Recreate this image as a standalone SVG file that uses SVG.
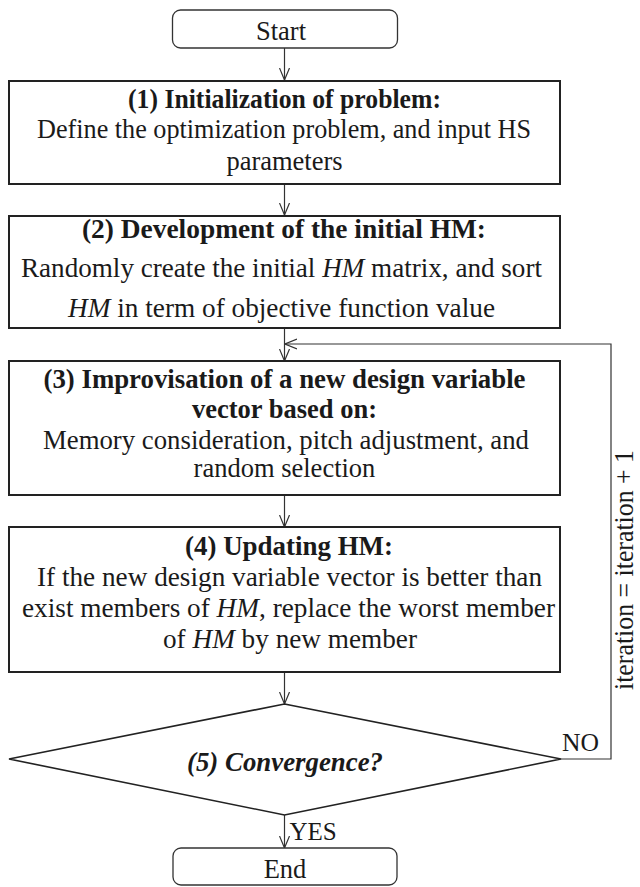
<svg xmlns="http://www.w3.org/2000/svg" width="640" height="887" viewBox="0 0 640 887">
<style>
.box{fill:#fff;stroke:#222;stroke-width:2}
.term{fill:#fff;stroke:#333;stroke-width:1.3}
.ln{fill:none;stroke:#333;stroke-width:1.2}
.t{font-family:"Liberation Serif","Times New Roman",serif;font-size:26.5px;fill:#1a1a1a;text-anchor:middle}
.b{font-weight:bold}
.i{font-style:italic}
</style>
<defs>
<marker id="arr" viewBox="0 0 12 12" refX="12" refY="6" markerWidth="12" markerHeight="12" markerUnits="userSpaceOnUse" orient="auto">
<path d="M0,1 L12,6 L0,11" fill="none" stroke="#333" stroke-width="1.2"/>
</marker>
</defs>
<rect width="640" height="887" fill="#fff"/>
<g id="connectors">
<line class="ln" x1="284.5" y1="48" x2="284.5" y2="80" marker-end="url(#arr)"/>
<line class="ln" x1="284.5" y1="184" x2="284.5" y2="215" marker-end="url(#arr)"/>
<line class="ln" x1="284.5" y1="328" x2="284.5" y2="361" marker-end="url(#arr)"/>
<line class="ln" x1="284.5" y1="495" x2="284.5" y2="527" marker-end="url(#arr)"/>
<line class="ln" x1="284.5" y1="672" x2="284.5" y2="704" marker-end="url(#arr)"/>
<line class="ln" x1="284.5" y1="815" x2="284.5" y2="848" marker-end="url(#arr)"/>
<polyline class="ln" points="561,759 611,759 611,344 285,344" marker-end="url(#arr)"/>
<text class="t" x="580.5" y="751" style="font-size:25px" textLength="37" lengthAdjust="spacingAndGlyphs">NO</text>
<text class="t" x="313" y="840" style="font-size:25px">YES</text>
<text class="t" transform="translate(633,570) rotate(-90)" textLength="240" lengthAdjust="spacingAndGlyphs">iteration = iteration + 1</text>
</g>
<g id="start">
<rect class="term" x="172.5" y="10" width="225" height="38" rx="8"/>
<text class="t" x="281" y="40">Start</text>
</g>
<g id="step1">
<rect class="box" x="9" y="81" width="551" height="103"/>
<text class="t b" x="284.5" y="108" textLength="313" lengthAdjust="spacingAndGlyphs">(1) Initialization of problem:</text>
<text class="t" x="284" y="138" textLength="494" lengthAdjust="spacingAndGlyphs">Define the optimization problem, and input HS</text>
<text class="t" x="284.5" y="170">parameters</text>
</g>
<g id="step2">
<rect class="box" x="9" y="216" width="551" height="112"/>
<text class="t b" x="284" y="238" textLength="404" lengthAdjust="spacingAndGlyphs">(2) Development of the initial HM:</text>
<text class="t" x="281.5" y="277" textLength="521" lengthAdjust="spacingAndGlyphs">Randomly create the initial <tspan class="i">HM</tspan> matrix, and sort</text>
<text class="t" x="281.5" y="317" textLength="427" lengthAdjust="spacingAndGlyphs"><tspan class="i">HM</tspan> in term of objective function value</text>
</g>
<g id="step3">
<rect class="box" x="9" y="361" width="551" height="134"/>
<text class="t b" x="284.5" y="388" textLength="482" lengthAdjust="spacingAndGlyphs">(3) Improvisation of a new design variable</text>
<text class="t b" x="284.5" y="418">vector based on:</text>
<text class="t" x="286" y="449" textLength="486" lengthAdjust="spacingAndGlyphs">Memory consideration, pitch adjustment, and</text>
<text class="t" x="284.5" y="477">random selection</text>
</g>
<g id="step4">
<rect class="box" x="9" y="527" width="551" height="145"/>
<text class="t b" x="289" y="555" textLength="208" lengthAdjust="spacingAndGlyphs">(4) Updating HM:</text>
<text class="t" x="289.5" y="586" textLength="505" lengthAdjust="spacingAndGlyphs">If the new design variable vector is better than</text>
<text class="t" x="288.5" y="617" textLength="533" lengthAdjust="spacingAndGlyphs">exist members of <tspan class="i">HM</tspan>, replace the worst member</text>
<text class="t" x="290" y="648" textLength="254" lengthAdjust="spacingAndGlyphs">of <tspan class="i">HM</tspan> by new member</text>
</g>
<g id="step5">
<polygon points="284.5,704 561,759 284.5,815 9,759" fill="#fff" stroke="#222" stroke-width="1.6"/>
<text class="t b i" x="285" y="771" textLength="196" lengthAdjust="spacingAndGlyphs">(5) Convergence?</text>
</g>
<g id="end">
<rect class="term" x="173" y="848" width="224" height="37" rx="8"/>
<text class="t" x="285" y="878">End</text>
</g>
</svg>
